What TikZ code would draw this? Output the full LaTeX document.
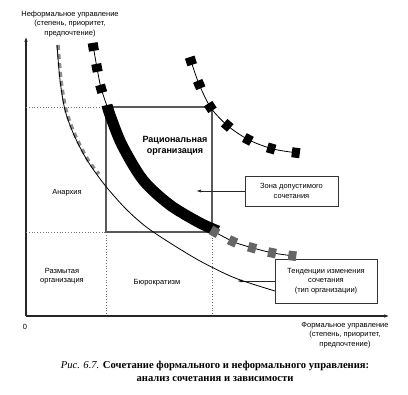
\documentclass[tikz,border=0pt]{standalone}
\usepackage{fontspec}
\setmainfont{Liberation Serif}
\newfontfamily\lsans{Liberation Sans}
\usetikzlibrary{arrows.meta,decorations.markings}
\begin{document}
\begin{tikzpicture}[x=1pt,y=-1pt,
  lbl/.style={font=\lsans\fontsize{7.5}{9.4}\selectfont, align=center, inner sep=0pt},
  axisline/.style={line width=1.3pt, draw=black!85, -{Latex[length=6pt,width=3.5pt]}},
  framebox/.style={draw=black!65, line width=1.1pt},
  dotline/.style={draw=black!55, dotted, line width=0.8pt},
  labelbox/.style={draw=black!80, line width=0.8pt, fill=white, lbl},
  pointer/.style={draw=black!85, line width=0.8pt, -{Latex[length=5pt,width=3pt]}},
  thincurve/.style={draw=black, line width=0.8pt},
  blacksq/.style={decoration={markings, mark=#1 with {\fill[black] (-4,-5) rectangle (4,5);}}, postaction={decorate}},
  graysq/.style={decoration={markings, mark=#1 with {\fill[black!60] (-4,-4.8) rectangle (4,4.8);}}, postaction={decorate}}
]
\useasboundingbox (0,0) rectangle (408,395);

% axes
\coordinate (O) at (26,316);
\coordinate (ytip) at (26,36);
\coordinate (xtip) at (390,316);
\draw[axisline] (O) -- (ytip);
\draw[axisline] (O) -- (xtip);

% dotted guide lines
\draw[dotline] (26,107) -- (106,107);
\draw[dotline] (26,232) -- (106,232);
\draw[dotline] (106,232) -- (106,316);
\draw[dotline] (212,232) -- (212,316);

% rational organisation frame
\draw[framebox] (106,107) rectangle (212,232);

% boxes
\node[labelbox, minimum width=93pt, minimum height=30pt] (zona) at (291.5,191) {Зона допустимого\\сочетания};
\node[labelbox, minimum width=102pt, minimum height=44pt] (tend) at (326,281) {Тенденции изменения\\сочетания\\(тип организации)};
\coordinate (zt) at (196,191);
\coordinate (tt) at (237,281);
\draw[pointer] (zona.west) -- (zt);
\draw[pointer] (tend.west) -- (tt);

% gray speckles along thin curve
\draw[draw=black!45, line width=3.5pt, dash pattern=on 5pt off 4pt]
  plot[smooth] coordinates {(58,45) (61,80) (66,110) (75,135) (88,160) (99,174)};
% thin curve
\draw[thincurve] plot[smooth] coordinates {(57,45) (60,80) (65,110) (74,135) (87,160) (104,184) (125,208) (145,226) (167,241) (200,261) (235,278) (275,291)};

% middle curve: top part with squares
\draw[thincurve, blacksq={between positions 0.03 and 0.75 step 0.34}]
  plot[smooth] coordinates {(93,45) (97,68) (101,88) (107,106)};
% middle band
\draw[line width=11pt, line cap=butt]
  plot[smooth] coordinates {(107,105) (110,115) (122,145) (143,180) (170,205) (200,223) (218,231)};
% middle curve: gray squares
\draw[thincurve, graysq={between positions 0.02 and 0.99 step 0.24}]
  plot[smooth] coordinates {(213,231) (234,242) (253,248) (273,253) (294,256)};

% right curve
\draw[thincurve, blacksq={between positions 0.02 and 0.99 step 0.161}]
  plot[smooth] coordinates {(190,58) (199,84) (211,108) (228,126) (249,140) (273,149) (298,153)};

% labels
\node[lbl] (ylab) at (70,24) {Неформальное управление\\(степень, приоритет,\\предпочтение)};
\node[lbl] (xlab) at (345,335) {Формальное управление\\(степень, приоритет,\\предпочтение)};
\node[lbl] (zero) at (25,327) {0};
\node[lbl] (anarchy) at (67,193) {Анархия};
\node[lbl] (blur) at (62,276) {Размытая\\организация};
\node[lbl] (bureau) at (157,283) {Бюрократизм};
\node[lbl, font=\lsans\bfseries\fontsize{9}{11.5}\selectfont] (rational) at (175,146) {Рациональная\\организация};

% caption
\node[align=center, inner sep=0pt, font=\fontsize{10.6}{13.2}\selectfont] (caption) at (215,371)
  {{\itshape Рис. 6.7.} \textbf{Сочетание формального и неформального управления:}\\ \textbf{анализ сочетания и зависимости}};
\end{tikzpicture}
\end{document}
